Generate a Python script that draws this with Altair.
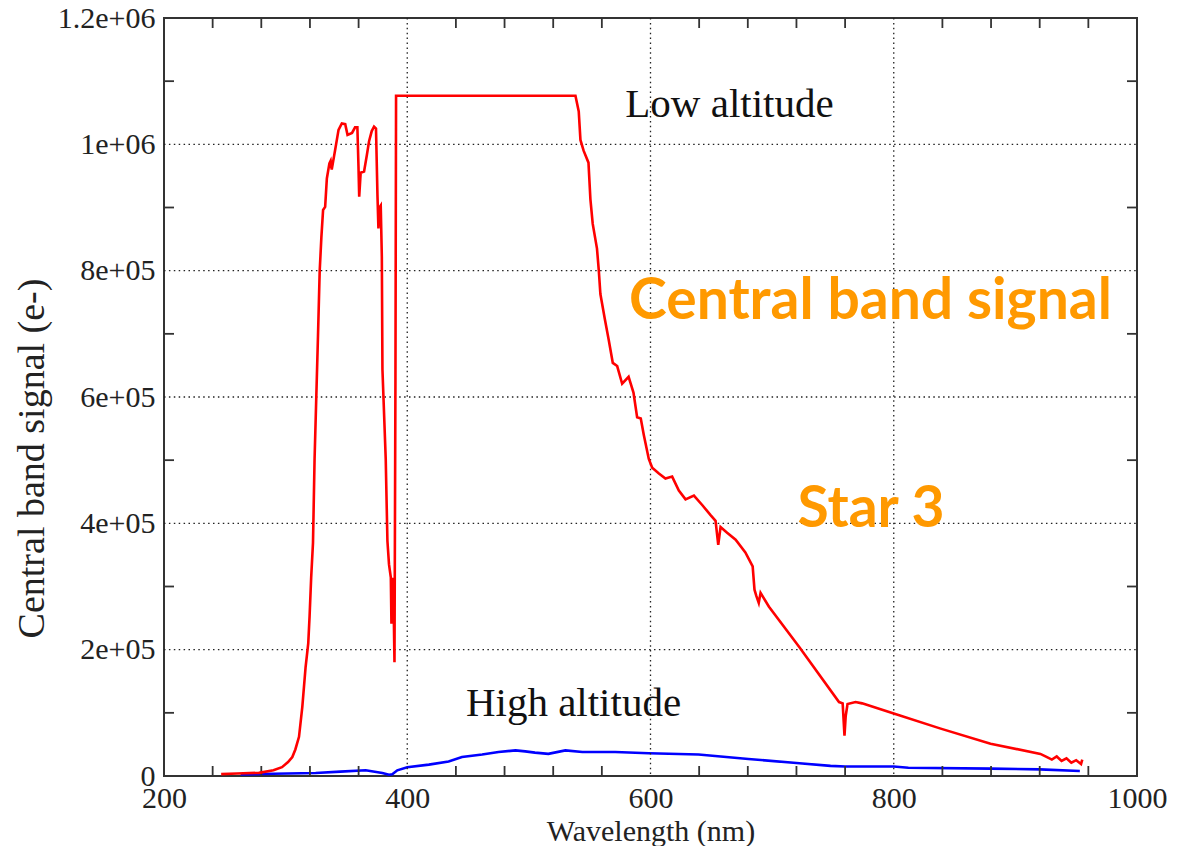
import altair as alt
import pandas as pd

# ---------------- data ----------------
red_wl = [247, 260, 278, 290, 297, 302, 305.5, 308, 311, 313.7, 316.4, 318.6, 319.7, 321,
          322.5, 323.8, 325.2, 326.6, 328, 329.4, 330.8, 332.5, 333.9, 336, 337, 337.9,
          340.7, 343.5, 346.2, 349, 350.9, 354.6, 357.1, 359, 359.9, 360.5, 361.7, 364.5,
          366.8, 368.6, 370.8, 372.7, 374.3, 375.5, 376.3, 377.2, 378.2, 379.1, 379.6,
          382.3, 383.7, 385, 386.5, 387, 388.5, 389.5, 390.3, 390.8,
          538.3, 541, 542.4, 545, 549, 550.6, 552.5, 556, 557.5, 558.8, 562.4, 565.7, 569,
          572.6, 576.7, 582, 586, 589, 592, 594.5, 598.6, 601.4, 606.9, 612.3, 617.8, 623.3,
          628.8, 635.7, 642.5, 649.4, 653.5, 655.7, 657.6, 663, 670, 678, 684, 685.5, 687,
          689, 690.5, 697.4, 722, 755, 758, 759.5, 760.5, 762, 768.6, 774, 800, 838.6,
          879.6, 920.6, 926, 930, 934, 938, 942, 946, 950, 954, 955]
red_val = [3000, 4000, 5000, 9000, 14000, 22000, 30000, 42000, 62000, 109000, 172000, 210000,
           253000, 314000, 369000, 502000, 599000, 696000, 799000, 853000, 896000, 901000,
           946000, 970000, 974000, 960000, 991000, 1023000, 1033000, 1032000, 1015000,
           1018000, 1027000, 1027000, 965000, 917000, 955000, 957000, 983000, 1005000,
           1021000, 1028000, 1025000, 920000, 867000, 900000, 903000, 822000, 644000,
           502000, 372000, 335000, 314000, 241000, 314000, 180000, 630000, 1077000,
           1077000, 1052000, 1007000, 990000, 971000, 913000, 874000, 835000, 800000,
           763000, 724000, 690000, 654000, 649000, 621000, 632000, 607000, 568000, 566000,
           540000, 502000, 488000, 479000, 471000, 474000, 452000, 438000, 444000, 429000,
           413000, 404000, 366000, 394000, 385000, 374000, 354000, 332000, 295000, 285000,
           274000, 290000, 268000, 205000, 117000, 115000, 64000, 95000, 114000, 117000,
           115000, 99000, 75000, 51000, 35000, 30000, 26000, 31000, 24000, 28000, 21000,
           25000, 19000, 26000]

blue_wl = [263, 290, 324.7, 345, 365.8, 379.5, 385, 387.7, 391.8, 400, 417.8, 434, 445,
           461.6, 475, 489, 497, 505, 516, 530, 544, 571, 598.6, 639.5, 680.5, 720, 748,
           760, 800, 812, 879.6, 920, 953]
blue_val = [2600, 3500, 4700, 7000, 9000, 4700, 2000, 2600, 9000, 14000, 18000, 23000, 30000,
            34000, 38000, 40600, 39000, 37000, 35000, 40600, 38000, 38000, 36000, 34000,
            27000, 20500, 16000, 15000, 15000, 13000, 11600, 10500, 8000]

x_major = [200, 400, 600, 800, 1000]
y_major = [0, 200000, 400000, 600000, 800000, 1000000, 1200000]
y_labels = ["0", "2e+05", "4e+05", "6e+05", "8e+05", "1e+06", "1.2e+06"]
x_grid = [400, 600, 800]
y_grid = [200000, 400000, 600000, 800000, 1000000]
x_minor = [240, 280, 320, 360, 440, 480, 520, 560, 640, 680, 720, 760, 840, 880, 920, 960]
y_minor = [100000, 300000, 500000, 700000, 900000, 1100000]

x_title = "Wavelength (nm)"
y_title = "Central band signal (e-)"
label_low = "Low altitude"
label_high = "High altitude"
label_band = "Central band signal"
label_star = "Star 3"

# ---------------- chart ----------------
W, H = 973, 758
SERIF = "Liberation Serif"
xs = alt.Scale(domain=[200, 1000], nice=False, zero=False)
ys = alt.Scale(domain=[0, 1200000], nice=False)

label_expr = " : ".join(f"datum.value == {v} ? '{l}'" for v, l in zip(y_major, y_labels)) + " : ''"

red_df = pd.DataFrame({"wl": red_wl, "val": red_val})
blue_df = pd.DataFrame({"wl": blue_wl, "val": blue_val})

x_axis = alt.Axis(values=x_major, format="d", title=x_title, grid=False, ticks=False,
                  tickSize=0, domain=False, labelFlush=False, labelFont=SERIF,
                  labelFontSize=30, labelColor="#222", labelPadding=31,
                  labelBaseline="alphabetic", labelOverlap=False,
                  titleFont=SERIF, titleFontSize=30, titleFontWeight="normal",
                  titleColor="#222", titleY=64, titleBaseline="alphabetic")
y_axis = alt.Axis(values=y_major, labelExpr=label_expr, title=y_title, grid=False,
                  ticks=False, tickSize=0, domain=False, labelFont=SERIF, labelFontSize=30,
                  labelColor="#222", labelPadding=9, labelBaseline="middle",
                  labelOverlap=False,
                  titleFont=SERIF, titleFontSize=38, titleFontWeight="normal",
                  titleColor="#222", titleAngle=270, titleX=-121, titleY=440,
                  titleAlign="center", titleBaseline="alphabetic")


def X(field="wl"):
    return alt.X(f"{field}:Q", scale=xs, axis=x_axis, title=x_title)


def Y(field="val"):
    return alt.Y(f"{field}:Q", scale=ys, axis=y_axis, title=y_title)


blue = alt.Chart(blue_df).mark_line(color="#0000ff", strokeWidth=2.6).encode(x=X(), y=Y())
red = alt.Chart(red_df).mark_line(color="#ff0000", strokeWidth=2.6).encode(x=X(), y=Y())

dash = dict(color="#222", strokeWidth=1.3, strokeDash=[1.5, 3.4])
gx = alt.Chart(pd.DataFrame({"wl": x_grid})).mark_rule(**dash).encode(
    x=X(), y=alt.value(0), y2=alt.value(H))
gy = alt.Chart(pd.DataFrame({"val": y_grid})).mark_rule(**dash).encode(
    y=Y(), x=alt.value(0), x2=alt.value(W))

tk = dict(color="#333", strokeWidth=1.8)
TL = 10
t_bottom = alt.Chart(pd.DataFrame({"wl": x_minor})).mark_rule(**tk).encode(
    x=X(), y=alt.value(H), y2=alt.value(H - TL))
t_top = alt.Chart(pd.DataFrame({"wl": x_minor})).mark_rule(**tk).encode(
    x=X(), y=alt.value(0), y2=alt.value(TL))
t_left = alt.Chart(pd.DataFrame({"val": y_minor})).mark_rule(**tk).encode(
    y=Y(), x=alt.value(0), x2=alt.value(TL))
t_right = alt.Chart(pd.DataFrame({"val": y_minor})).mark_rule(**tk).encode(
    y=Y(), x=alt.value(W), x2=alt.value(W - TL))


def txt(s, px, py, font, size, color, weight="normal"):
    return alt.Chart(pd.DataFrame({"t": [s]})).mark_text(
        font=font, fontSize=size, color=color, fontWeight=weight,
        align="center", baseline="alphabetic").encode(
        text="t:N", x=alt.value(px), y=alt.value(py))


COMIC = "Comic Sans MS, Lato"
t1 = txt(label_low, 565.5, 99, SERIF, 41, "#111")
t2 = txt(label_high, 409.5, 698, SERIF, 41, "#111")
t3 = txt(label_band, 706.5, 301, COMIC, 57, "#ff9900", "bold")
t4 = txt(label_star, 707, 509, COMIC, 57, "#ff9900", "bold")

chart = alt.layer(blue, gx, gy, t_bottom, t_top, t_left, t_right, red, t1, t2, t3, t4).properties(
    width=W, height=H,
    autosize=alt.AutoSizeParams(type="none"),
    padding={"left": 164, "top": 18, "right": 50, "bottom": 70},
    background="white",
).configure_view(stroke="#333", strokeWidth=2)

chart.save("out.html", embed_options={"renderer": "svg", "actions": False})
